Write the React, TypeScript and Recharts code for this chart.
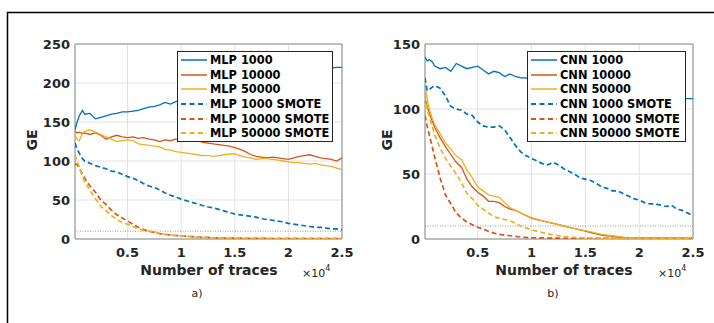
import {
  CartesianGrid,
  Legend,
  Line,
  LineChart,
  ReferenceArea,
  ReferenceLine,
  XAxis,
  YAxis,
} from "recharts";

// number of traces (x axis, shared by every curve)
const traces = [
  100, 300, 500, 800, 1000, 1500, 2000, 2500,
  3000, 3500, 4000, 4500, 5000, 5500, 6000, 6500, 7000, 7500,
  8000, 8500, 9000, 9500, 10000, 10500, 11000, 11500, 12000, 12500,
  13000, 13500, 14000, 14500, 15000, 15500, 16000, 16500, 17000, 17500,
  18000, 18500, 19000, 19500, 20000, 20500, 21000, 21500, 22000, 22500,
  23000, 23500, 24000, 24500, 25000,
];

// a) MLP guessing entropy
const mlp1000 = [
  140, 150, 158, 165, 160, 161, 154, 156,
  158, 160, 161, 163, 163, 164, 165, 167, 169, 170,
  172, 175, 173, 176, 178, 180, 182, 184, 186, 188,
  190, 192, 194, 196, 197, 199, 201, 203, 204, 206,
  207, 209, 210, 211, 212, 213, 214, 215, 216, 217,
  218, 218, 219, 220, 220,
];
const mlp10000 = [
  138, 136, 137, 135, 136, 134, 136, 133,
  128, 131, 133, 131, 130, 131, 129, 130, 128, 127,
  125, 127, 126, 128, 128, 129, 128, 127, 124, 123,
  122, 121, 120, 119, 117, 115, 112, 108, 106, 105,
  104, 105, 104, 103, 102, 104, 106, 107, 108, 106,
  104, 103, 102, 100, 104,
];
const mlp50000 = [
  133, 128, 126, 136, 138, 140, 137, 134,
  131, 128, 125, 126, 127, 126, 122, 121, 120, 119,
  118, 115, 114, 112, 111, 110, 109, 108, 107, 107,
  106, 107, 108, 109, 109, 107, 105, 104, 102, 103,
  103, 102, 101, 100, 99, 98, 98, 97, 96, 97,
  95, 94, 93, 91, 89,
];
const mlp1000Smote = [
  123, 115, 110, 103, 100, 97, 94, 92,
  90, 87, 86, 83, 80, 78, 75, 71, 68, 66,
  63, 59, 56, 54, 51, 49, 47, 45, 43, 41,
  40, 38, 36, 34, 32, 31, 30, 29, 28, 26,
  25, 24, 23, 22, 20, 19, 18, 17, 16, 15,
  15, 14, 13, 13, 12,
];
const mlp10000Smote = [
  97, 95, 91, 83, 78, 68, 60, 50,
  44, 37, 31, 27, 23, 19, 15, 12, 10, 8.5,
  7, 6, 5, 4.5, 4, 3.5, 3, 2.5, 2, 2,
  1.5, 1.5, 1.2, 1, 1, 1, 0.8, 0.8, 0.8, 0.7,
  0.7, 0.6, 0.6, 0.6, 0.5, 0.5, 0.5, 0.5, 0.5, 0.5,
  0.5, 0.5, 0.5, 0.5, 0.5,
];
const mlp50000Smote = [
  108, 100, 92, 80, 74, 62, 52, 42,
  36, 30, 25, 21, 19, 16, 13, 11, 10, 8.5,
  7, 6, 5, 4.5, 4, 3.5, 3, 2.5, 2, 2,
  1.5, 1.5, 1.2, 1, 1, 1, 0.9, 0.9, 0.8, 0.8,
  0.8, 0.7, 0.7, 0.7, 0.7, 0.7, 0.7, 0.7, 0.7, 0.7,
  0.7, 0.7, 0.7, 0.7, 0.7,
];

// b) CNN guessing entropy
const cnn1000 = [
  140, 137, 138, 136, 133, 131, 132, 129,
  135, 133, 131, 132, 133, 130, 127, 129, 128, 125,
  127, 125, 124, 124, 122, 121, 120, 120, 119, 119,
  118, 118, 117, 117, 116, 116, 115, 115, 114, 114,
  113, 113, 112, 112, 111, 111, 110, 110, 109, 109,
  109, 108, 108, 108, 108,
];
const cnn10000 = [
  108, 102, 97, 90, 86, 78, 71, 65,
  59, 55, 46, 40, 36, 33, 29, 29, 28, 25,
  23, 22, 20, 18, 16, 15, 14, 13, 12, 11,
  10, 9, 8, 7, 6, 5, 4, 3, 2.5, 2,
  1.5, 1.2, 1, 1, 0.8, 0.7, 0.6, 0.6, 0.5, 0.5,
  0.5, 0.5, 0.5, 0.5, 0.5,
];
const cnn50000 = [
  118, 108, 100, 92, 88, 81, 74, 69,
  64, 61, 53, 47, 40, 37, 34, 33, 32, 28,
  24, 22, 20, 18, 16.5, 15, 14, 13, 12, 11,
  10, 9, 8, 7, 6.5, 5.5, 4.5, 3.5, 3, 2.5,
  2, 1.5, 1.2, 1, 1, 0.9, 0.8, 0.8, 0.8, 0.8,
  0.8, 0.8, 0.8, 0.8, 0.8,
];
const cnn1000Smote = [
  124, 114, 115, 117, 118, 116, 110, 102,
  100, 99, 96, 95, 90, 87, 86, 86, 87, 84,
  78, 72, 67, 64, 62, 60, 58, 57, 59, 57,
  54, 52, 50, 47, 46, 45, 43, 40, 39, 37,
  37, 35, 33, 31, 30, 28, 27, 27, 26, 25,
  26, 23, 22, 20, 18,
];
const cnn10000Smote = [
  95, 87, 80, 70, 63, 47, 34, 27,
  20, 16, 13, 11, 9, 7.5, 6, 4.5, 3.5, 3,
  2.5, 2, 1.5, 1.2, 1, 0.9, 0.8, 0.7, 0.6, 0.6,
  0.5, 0.5, 0.5, 0.5, 0.5, 0.5, 0.5, 0.5, 0.5, 0.5,
  0.5, 0.5, 0.5, 0.5, 0.5, 0.5, 0.5, 0.5, 0.5, 0.5,
  0.5, 0.5, 0.5, 0.5, 0.5,
];
const cnn50000Smote = [
  110, 100, 94, 86, 80, 70, 62, 56,
  50, 43, 35, 31, 26, 23, 20, 17, 16, 15,
  14, 12, 10, 8.5, 7, 6, 5, 4, 3, 2.5,
  2, 1.5, 1.2, 1, 0.9, 0.8, 0.8, 0.7, 0.7, 0.7,
  0.6, 0.6, 0.6, 0.6, 0.6, 0.6, 0.6, 0.6, 0.6, 0.6,
  0.6, 0.6, 0.6, 0.6, 0.6,
];

const xTicks = [5000, 10000, 15000, 20000, 25000];
const mlpTicks = [0, 50, 100, 150, 200, 250];
const cnnTicks = [0, 50, 100, 150];

const BLUE = "#0072BD";
const RED = "#D95319";
const YELLOW = "#EDB120";
const FONT = "'DejaVu Sans', sans-serif";

type Series = { key: string; name: string; values: number[]; color: string; dashed: boolean };

const mlpSeries: Series[] = [
  { key: "a", name: "MLP 1000", values: mlp1000, color: BLUE, dashed: false },
  { key: "b", name: "MLP 10000", values: mlp10000, color: RED, dashed: false },
  { key: "c", name: "MLP 50000", values: mlp50000, color: YELLOW, dashed: false },
  { key: "d", name: "MLP 1000 SMOTE", values: mlp1000Smote, color: BLUE, dashed: true },
  { key: "e", name: "MLP 10000 SMOTE", values: mlp10000Smote, color: RED, dashed: true },
  { key: "f", name: "MLP 50000 SMOTE", values: mlp50000Smote, color: YELLOW, dashed: true },
];
const cnnSeries: Series[] = [
  { key: "a", name: "CNN 1000", values: cnn1000, color: BLUE, dashed: false },
  { key: "b", name: "CNN 10000", values: cnn10000, color: RED, dashed: false },
  { key: "c", name: "CNN 50000", values: cnn50000, color: YELLOW, dashed: false },
  { key: "d", name: "CNN 1000 SMOTE", values: cnn1000Smote, color: BLUE, dashed: true },
  { key: "e", name: "CNN 10000 SMOTE", values: cnn10000Smote, color: RED, dashed: true },
  { key: "f", name: "CNN 50000 SMOTE", values: cnn50000Smote, color: YELLOW, dashed: true },
];

const tickStyle = { fontFamily: FONT, fontWeight: "bold", fontSize: 13, fill: "#262626" };

function LegendBox({ series }: { series: Series[] }) {
  return (
    <div
      style={{
        border: "1px solid #262626",
        background: "#fff",
        boxSizing: "border-box",
        height: 91,
        padding: "1px 0 0 3px",
      }}
    >
      {series.map((s) => (
        <div key={s.key} style={{ display: "flex", alignItems: "center", height: 14.6 }}>
          <svg width={26} height={6} style={{ marginRight: 3, flex: "none" }}>
            <line
              x1={0}
              y1={3}
              x2={26}
              y2={3}
              stroke={s.color}
              strokeWidth={s.dashed ? 1.8 : 1.5}
              strokeDasharray={s.dashed ? "5 3.5" : undefined}
            />
          </svg>
          <span
            style={{
              fontFamily: FONT,
              fontWeight: "bold",
              fontSize: 11.4,
              color: "#000",
              whiteSpace: "nowrap",
              lineHeight: "14px",
            }}
          >
            {s.name}
          </span>
        </div>
      ))}
    </div>
  );
}

function Panel({
  series,
  yTicks,
  marginLeft,
  marginRight,
  legendLeft,
  legendWidth,
}: {
  series: Series[];
  yTicks: number[];
  marginLeft: number;
  marginRight: number;
  legendLeft: number;
  legendWidth: number;
}) {
  const yMax = yTicks[yTicks.length - 1];
  const data = traces.map((t, i) => {
    const row: Record<string, number> = { t };
    series.forEach((s) => (row[s.key] = s.values[i]));
    return row;
  });
  return (
    <LineChart
      width={714}
      height={323}
      data={data}
      margin={{ top: 44, right: marginRight, bottom: 54, left: marginLeft }}
      style={{ position: "absolute", left: 0, top: 0 }}
    >
      <CartesianGrid stroke="#e2e2e2" />
      <XAxis
        dataKey="t"
        type="number"
        domain={[100, 25000]}
        ticks={xTicks}
        tickFormatter={(v) => String(v / 10000)}
        tick={tickStyle}
        tickLine={false}
        axisLine={false}
        tickSize={6}
        tickMargin={3}
        height={30}
        allowDataOverflow
      />
      <YAxis
        type="number"
        domain={[0, yMax]}
        ticks={yTicks}
        tick={tickStyle}
        tickLine={false}
        axisLine={false}
        tickSize={5}
        tickMargin={0}
        width={30}
        allowDataOverflow
      />
      <ReferenceLine y={10} stroke="#9a9a9a" strokeDasharray="1 1.5" strokeWidth={1} />
      {series.map((s) => (
        <Line
          key={s.key}
          type="linear"
          dataKey={s.key}
          name={s.name}
          stroke={s.color}
          strokeWidth={s.dashed ? 1.7 : 1.3}
          strokeDasharray={s.dashed ? "5 3" : undefined}
          dot={false}
          activeDot={false}
          isAnimationActive={false}
        />
      ))}
      <ReferenceArea x1={100} x2={25000} y1={0} y2={yMax} fill="none" stroke="#8a8a8a" strokeWidth={1} />
      <Legend
        layout="horizontal"
        align="center"
        verticalAlign="middle"
        wrapperStyle={{ left: legendLeft, top: 51, width: legendWidth, height: 91 }}
        content={() => <LegendBox series={series} />}
      />
    </LineChart>
  );
}

export default function App() {
  const labelStyle = { fontFamily: FONT, fontWeight: "bold" as const, fontSize: 14, fill: "#262626" };
  const smallStyle = { fontFamily: FONT, fontSize: 11, fill: "#262626" };
  return (
    <div style={{ position: "absolute", left: 0, top: 0, width: 714, height: 323, background: "#fff" }}>
      <Panel series={mlpSeries} yTicks={mlpTicks} marginLeft={45} marginRight={372} legendLeft={177} legendWidth={156} />
      <Panel series={cnnSeries} yTicks={cnnTicks} marginLeft={395} marginRight={21} legendLeft={527} legendWidth={159} />
      <svg width={714} height={323} style={{ position: "absolute", left: 0, top: 0, pointerEvents: "none" }}>
        <path d="M7.5,323 V12.5 H714" fill="none" stroke="#000" strokeWidth={1.5} />
        <text x={32} y={140} transform="rotate(-90 32 140)" textAnchor="middle" dominantBaseline="central" {...labelStyle}>
          GE
        </text>
        <text x={387} y={140} transform="rotate(-90 387 140)" textAnchor="middle" dominantBaseline="central" {...labelStyle}>
          GE
        </text>
        <text x={209} y={275} textAnchor="middle" {...labelStyle}>
          Number of traces
        </text>
        <text x={564} y={275} textAnchor="middle" {...labelStyle}>
          Number of traces
        </text>
        <text x={302} y={277} {...smallStyle}>
          ×10<tspan dy={-6} fontSize={8}>4</tspan>
        </text>
        <text x={658} y={277} {...smallStyle}>
          ×10<tspan dy={-6} fontSize={8}>4</tspan>
        </text>
        <text x={197} y={297} textAnchor="middle" {...smallStyle}>
          a)
        </text>
        <text x={553} y={297} textAnchor="middle" {...smallStyle}>
          b)
        </text>
      </svg>
    </div>
  );
}
